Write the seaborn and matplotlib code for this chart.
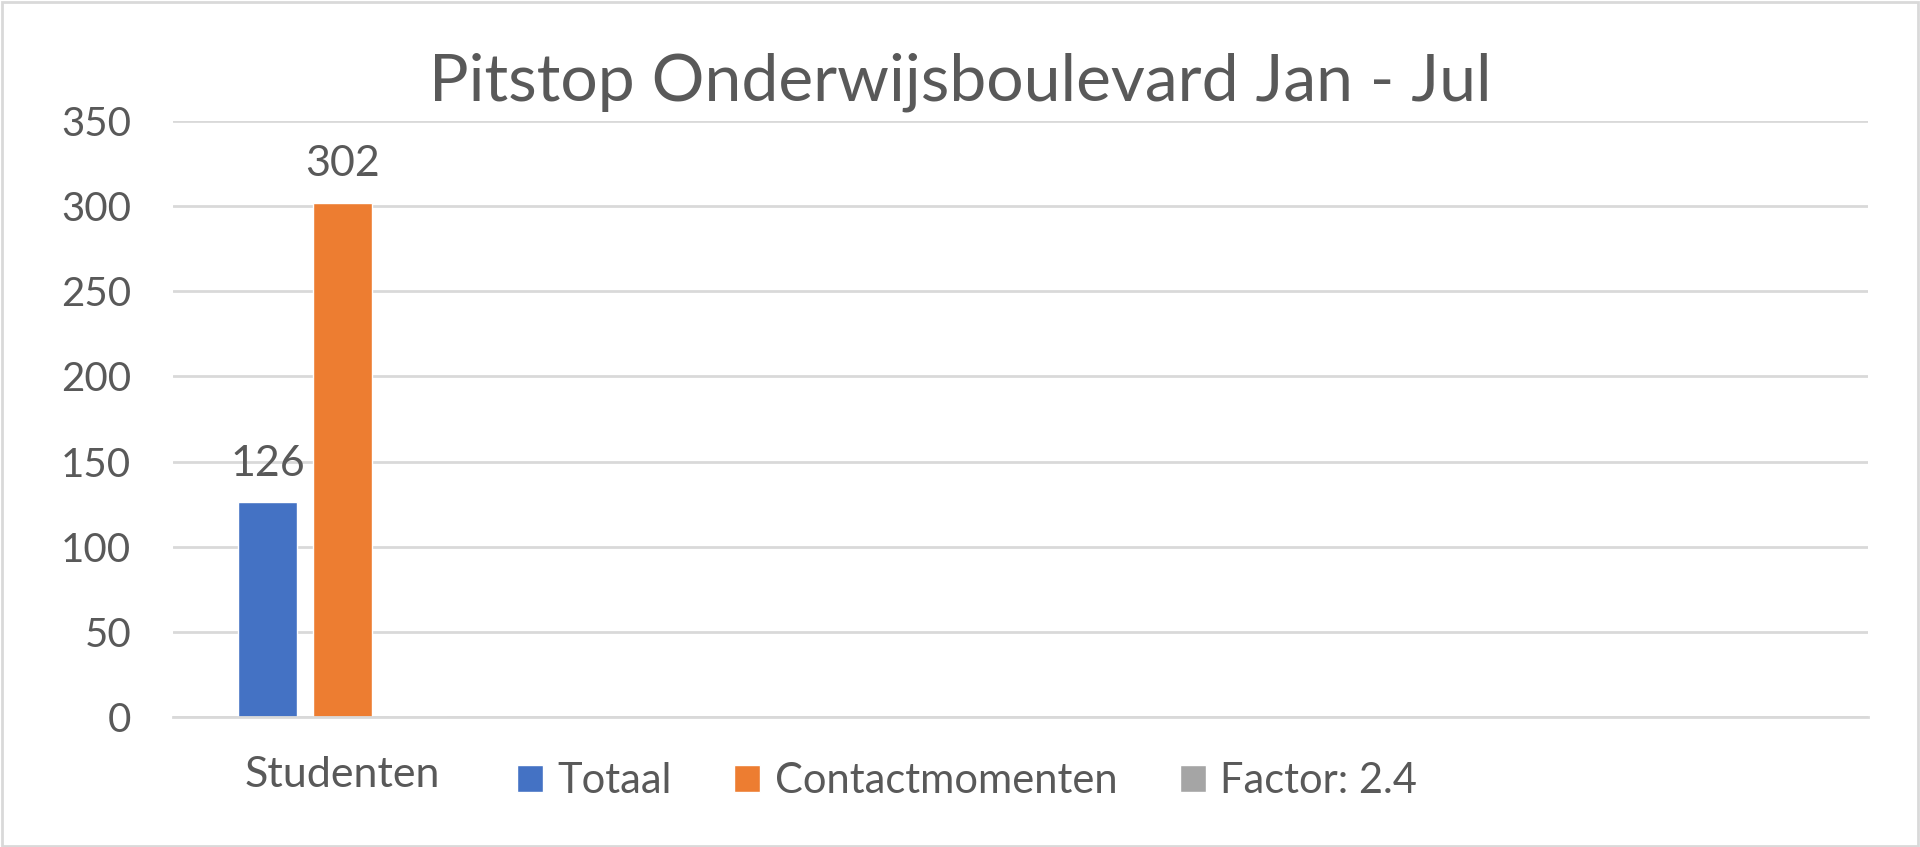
import matplotlib
matplotlib.use("Agg")
import matplotlib.pyplot as plt
import seaborn as sns
import pandas as pd

# data
categories = ["Studenten", "cat2", "cat3", "cat4", "cat5"]
tick_labels = ["Studenten", "", "", "", ""]
series = ["Totaal", "Contactmomenten", "Factor: 2.4"]
values_studenten = [126, 302, 0]
colors = ["#4472C4", "#ED7D31", "#A5A5A5"]

df = pd.DataFrame({
    "categorie": ["Studenten"] * len(series),
    "serie": series,
    "waarde": values_studenten,
})

sns.set_theme(style="white")
plt.rcParams["font.family"] = ["Lato", "DejaVu Sans"]
text_color = "#595959"

fig = plt.figure(figsize=(19.2, 8.47), dpi=100)
ax = fig.add_axes([173 / 1920, 1 - 717 / 847, (1868 - 173) / 1920, (717 - 121) / 847])

sns.barplot(data=df, x="categorie", y="waarde", hue="serie", order=categories,
            hue_order=series, palette=colors, width=0.664, gap=0.213,
            saturation=1, ax=ax, legend=True)

ax.set_ylim(0, 350)
ax.set_xlim(-0.5, len(categories) - 0.5)
ax.set_yticks(range(0, 351, 50))
ax.yaxis.grid(True, color="#D9D9D9", linewidth=2)
ax.set_axisbelow(True)
for s in ["top", "right", "left"]:
    ax.spines[s].set_visible(False)
ax.spines["bottom"].set_color("#D9D9D9")
ax.spines["bottom"].set_linewidth(2)
ax.set_xticks(range(len(categories)))
ax.set_xticklabels(tick_labels)
ax.tick_params(axis="y", length=0, labelsize=29, labelcolor=text_color, pad=30)
ax.tick_params(axis="x", length=0, labelsize=31, labelcolor=text_color, pad=28)
ax.set_xlabel("")
ax.set_ylabel("")

# data labels, only for non-zero bars
for cont in ax.containers:
    labels = [f"{v:g}" if v else "" for v in cont.datavalues]
    ax.bar_label(cont, labels=labels, padding=14, fontsize=31, color=text_color)

handles, labels = ax.get_legend_handles_labels()
ax.get_legend().remove()
fig.legend(handles, labels, loc="center", bbox_to_anchor=(967 / 1920, 1 - 781 / 847),
           ncol=3, frameon=False, fontsize=30, labelcolor=text_color,
           handlelength=0.62, handleheight=0.62, handletextpad=0.35, columnspacing=1.5)

fig.text(0.5, 1 - 100 / 847, "Pitstop Onderwijsboulevard Jan - Jul", ha="center",
         va="baseline", fontsize=47.5, color=text_color)

fig.patches.append(plt.Rectangle((0.001, 0.001), 0.998, 0.997, transform=fig.transFigure,
                                 fill=False, edgecolor="#D9D9D9", linewidth=2))

fig.savefig("out.png", dpi=100, facecolor="white")
